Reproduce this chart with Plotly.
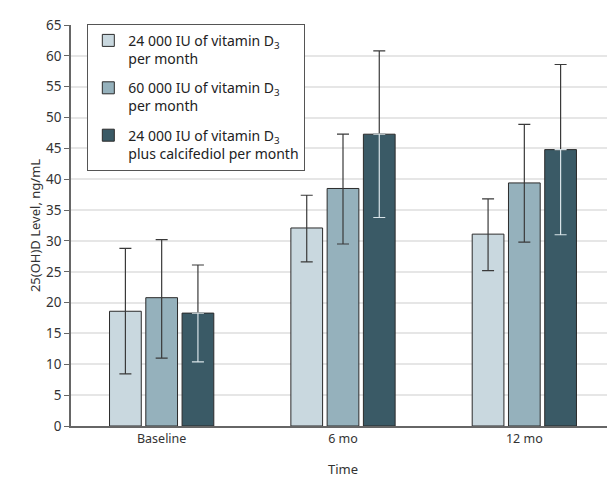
import plotly.graph_objects as go

categories = ["Baseline", "6 mo", "12 mo"]
series_names = [
    "24 000 IU of vitamin D<sub>3</sub><br>per month",
    "60 000 IU of vitamin D<sub>3</sub><br>per month",
    "24 000 IU of vitamin D<sub>3</sub><br>plus calcifediol per month",
]
means = [
    [18.6, 32.1, 31.1],
    [20.8, 38.5, 39.4],
    [18.3, 47.3, 44.8],
]
upper = [
    [28.8, 37.4, 36.8],
    [30.2, 47.3, 48.9],
    [26.1, 60.8, 58.6],
]
lower = [
    [8.45, 26.6, 25.2],
    [11.0, 29.5, 29.8],
    [10.4, 33.8, 31.0],
]
y_ticks = list(range(0, 66, 5))

colors = ["#c9d8df", "#95b1bc", "#3a5a66"]
offsets = [-0.2, 0.0, 0.2]
bar_w = 0.175
FONT = "Noto Sans"

fig = go.Figure()
for i in range(3):
    plus = [u - m for u, m in zip(upper[i], means[i])]
    minus = [m - l for m, l in zip(means[i], lower[i])]
    fig.add_trace(go.Bar(
        x=categories, y=means[i], name=series_names[i], legendgroup=f"g{i}",
        offset=offsets[i] - bar_w / 2, width=bar_w,
        marker=dict(color=colors[i], line=dict(color="#2b2b2b", width=1)),
        error_y=dict(type="data", array=plus, arrayminus=minus if i < 2 else [0, 0, 0],
                     symmetric=False, color="#3a3a3a", thickness=1.2, width=6),
    ))
# light lower segment of the error bars inside the dark bars
i = 2
minus = [m - l for m, l in zip(means[i], lower[i])]
fig.add_trace(go.Bar(
    x=categories, y=means[i], showlegend=False, hoverinfo="skip", legendgroup="g2",
    offset=offsets[i] - bar_w / 2, width=bar_w,
    marker=dict(color="rgba(0,0,0,0)", line=dict(width=0)),
    error_y=dict(type="data", array=[0, 0, 0], arrayminus=minus, symmetric=False,
                 color="#d8e3e8", thickness=1.2, width=6),
))

fig.update_layout(
    width=607, height=470,
    margin=dict(l=62.5, r=0, t=17, b=52),
    barmode="overlay",
    plot_bgcolor="white", paper_bgcolor="white",
    font=dict(family=FONT, size=13, color="#333333"),
    legend=dict(
        x=0.030, y=1.003, xanchor="left", yanchor="top",
        bordercolor="#555555", borderwidth=1, bgcolor="white",
        font=dict(family=FONT, size=14, color="#222222"),
        valign="top", tracegroupgap=8, traceorder="grouped",
    ),
    xaxis=dict(
        range=[-0.5, 2.5], showline=True, linecolor="#666666", linewidth=1.5,
        ticks="", showgrid=False, automargin=False,
        title=dict(text="Time", standoff=25, font=dict(family=FONT, size=13)),
        tickfont=dict(family=FONT, size=12.5),
    ),
    yaxis=dict(
        range=[0, 65], tickvals=y_ticks, showline=True, linecolor="#666666", linewidth=1.5,
        ticks="outside", ticklen=5, tickcolor="#666666", automargin=False,
        showgrid=True, gridcolor="#e6e6e6", gridwidth=1.5, zeroline=False,
        title=dict(text="25(OH)D Level, ng/mL", standoff=3, font=dict(family=FONT, size=13)),
        tickfont=dict(family=FONT, size=13.5),
    ),
)

fig.write_html("out.html")
